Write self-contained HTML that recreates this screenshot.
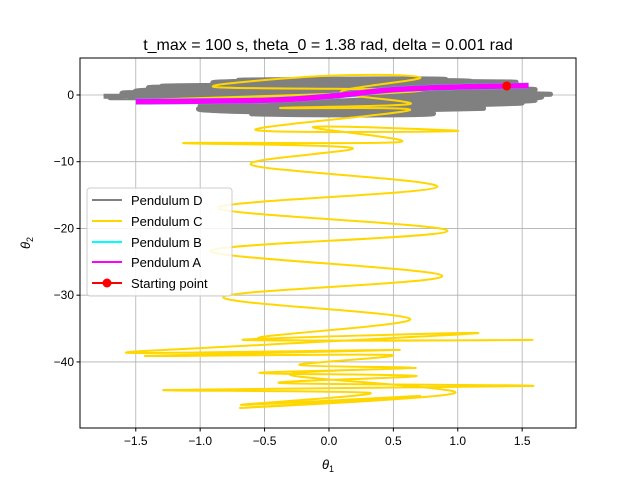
<!DOCTYPE html>
<html><head><meta charset="utf-8"><style>
body{margin:0;background:#fff}
svg{font-family:"Liberation Sans","DejaVu Sans",sans-serif}
</style></head><body>
<svg id="chart" width="640" height="480">
<rect width="640" height="480" fill="#fff"/>
<text x="328" y="50" text-anchor="middle" font-size="16">t_max = 100 s, theta_0 = 1.38 rad, delta = 0.001 rad</text>
<g id="grid"></g>
<g id="clip-area"></g>
<rect x="80" y="58" width="496" height="370" fill="none" stroke="#000" stroke-width="1"/>
<g id="ticks"></g>
<text x="328" y="469" text-anchor="middle" font-size="13" font-style="italic">θ<tspan font-size="9" dy="3" font-style="normal">1</tspan></text>
<text x="0" y="0" transform="translate(30,243) rotate(-90)" text-anchor="middle" font-size="13" font-style="italic">θ<tspan font-size="9" dy="3" font-style="normal">2</tspan></text>
<g>
<rect x="87" y="188" width="145" height="108" rx="3" fill="#fff" fill-opacity="0.85" stroke="#ccc"/>
<line x1="92" y1="200" x2="122" y2="200" stroke="#808080" stroke-width="2"/>
<text x="131" y="205" font-size="13">Pendulum D</text>
<line x1="92" y1="221" x2="122" y2="221" stroke="#ffd700" stroke-width="2"/>
<text x="131" y="226" font-size="13">Pendulum C</text>
<line x1="92" y1="242" x2="122" y2="242" stroke="#00ffff" stroke-width="2"/>
<text x="131" y="247" font-size="13">Pendulum B</text>
<line x1="92" y1="262" x2="122" y2="262" stroke="#ff00ff" stroke-width="2"/>
<text x="131" y="267" font-size="13">Pendulum A</text>
<line x1="92" y1="283" x2="122" y2="283" stroke="#ff0000" stroke-width="2"/>
<circle cx="107" cy="283" r="4.5" fill="#ff0000"/>
<text x="131" y="288" font-size="13">Starting point</text>
</g>
</svg>
<script>
const xTicks=[-1.5,-1.0,-0.5,0.0,0.5,1.0,1.5];
const yTicks=[0,-10,-20,-30,-40];
const xTickLabels=["−1.5","−1.0","−0.5","0.0","0.5","1.0","1.5"];
const yTickLabels=["0","−10","−20","−30","−40"];
const grayX=[-1.75,1.6,-1.3,1.45,-0.7,0.9,-1.5,1.65,-1.0,1.5,-0.8,1.2,-0.6,0.8,-1.6,1.72,-1.4,1.3,-1.2,1.6,-0.9,1.1,-1.7,1.5,-1.0,0.5];
const grayY=[-0.2,0.8,1.3,1.9,2.2,2.3,0.5,-0.3,-1.6,-1.2,-2.4,-2.0,-2.8,-2.7,0.3,0.1,1.1,1.5,-0.8,-0.8,1.8,2.0,-0.4,0.4,-2.0,-2.9];
const yellowX=[1.39,0.24,-1.47,-0.23,0.71,-0.89,0.01,0.71,0.09,0.63,-0.38,0.63,-0.57,1.00,-0.12,0.55,-1.13,0.18,-0.60,0.84,-0.86,0.92,-0.92,0.88,-0.82,0.63,-0.54,1.58,-0.67,1.16,-0.52,-1.55,0.55,-1.43,0.47,-0.23,0.64,-0.54,0.68,-0.38,1.58,-1.27,0.32,-0.68,0.71,-0.69,0.98,-0.30,0.68];
const yellowY=[1.35,0.3,-0.75,-0.3,0.75,1.2,2.9,2.6,0.45,-1.35,-1.95,-2.25,-5.24,-5.39,-4.79,-7.04,-7.19,-7.94,-10.49,-13.78,-16.93,-20.37,-23.37,-27.12,-30.26,-33.56,-36.55,-36.7,-36.7,-35.66,-37.45,-38.65,-38.2,-39.1,-38.95,-40.45,-40.9,-41.65,-42.1,-43.15,-43.6,-44.2,-44.64,-46.44,-45.1,-46.9,-44.64,-41.95,-40.9];
const cyanX=[-1.5,-0.5,0.0,0.5,1.0,1.55];
const cyanY=[-1.0,-0.8,-0.2,0.8,1.2,1.4];
const magentaX=[-1.5,-0.5,0.0,0.5,1.0,1.55];
const magentaY=[-1.0,-0.8,-0.2,0.8,1.2,1.4];
const startX=[1.38];
const startY=[1.35];

const X0=80,X1=576,Y0=58,Y1=428;
const xMin=-1.933,xMax=1.918,yMin=-49.9,yMax=5.54;
function sx(v){return X0+(v-xMin)/(xMax-xMin)*(X1-X0);}
function sy(v){return Y1-(v-yMin)/(yMax-yMin)*(Y1-Y0);}
const NS="http://www.w3.org/2000/svg";
function mk(tag,attrs,parent){const e=document.createElementNS(NS,tag);for(const k in attrs)e.setAttribute(k,attrs[k]);parent.appendChild(e);return e;}
const grid=document.getElementById('grid'),ticks=document.getElementById('ticks'),area=document.getElementById('clip-area');
xTicks.forEach((t,i)=>{const x=sx(t);
 const g=mk('line',{x1:x,x2:x,y1:Y0,y2:Y1,stroke:'#b0b0b0','stroke-width':0.8},grid);
 
 
 mk('line',{x1:x,x2:x,y1:Y1,y2:Y1+3.5,stroke:'#000'},ticks);
 const tx=mk('text',{x:x,y:Y1+17,'text-anchor':'middle','font-size':12},ticks);tx.textContent=xTickLabels[i];
 
 });
yTicks.forEach((t,i)=>{const y=sy(t);
 const g=mk('line',{x1:X0,x2:X1,y1:y,y2:y,stroke:'#b0b0b0','stroke-width':0.8},grid);
 
 
 mk('line',{x1:X0-3.5,x2:X0,y1:y,y2:y,stroke:'#000'},ticks);
 const tx=mk('text',{x:X0-6,y:y+4,'text-anchor':'end','font-size':12},ticks);tx.textContent=yTickLabels[i];
 
 });
function smoothPath(xs,ys){const p=xs.map((v,i)=>[sx(v),sy(ys[i])]);let d='M'+p[0][0]+','+p[0][1];
 for(let i=0;i<p.length-1;i++){const a=p[Math.max(0,i-1)],b=p[i],c=p[i+1],e=p[Math.min(p.length-1,i+2)];
  const c1=[b[0]+(c[0]-a[0])/6,b[1]+(c[1]-a[1])/6],c2=[c[0]-(e[0]-b[0])/6,c[1]-(e[1]-b[1])/6];
  d+=' C'+c1[0]+','+c1[1]+' '+c2[0]+','+c2[1]+' '+c[0]+','+c[1];}return d;}
const gp=mk('path',{d:smoothPath(grayX,grayY),fill:'none',stroke:'#808080','stroke-width':5,'stroke-linejoin':'round'},area);


const yp=mk('path',{d:smoothPath(yellowX,yellowY),fill:'none',stroke:'#ffd700','stroke-width':2},area);


const cp=mk('path',{d:smoothPath(cyanX,cyanY),fill:'none',stroke:'#00ffff','stroke-width':6},area);


const mp=mk('path',{d:smoothPath(magentaX,magentaY),fill:'none',stroke:'#ff00ff','stroke-width':5.5},area);


const sp=mk('circle',{cx:sx(startX[0]),cy:sy(startY[0]),r:4.5,fill:'#ff0000'},area);


</script>
</body></html>
